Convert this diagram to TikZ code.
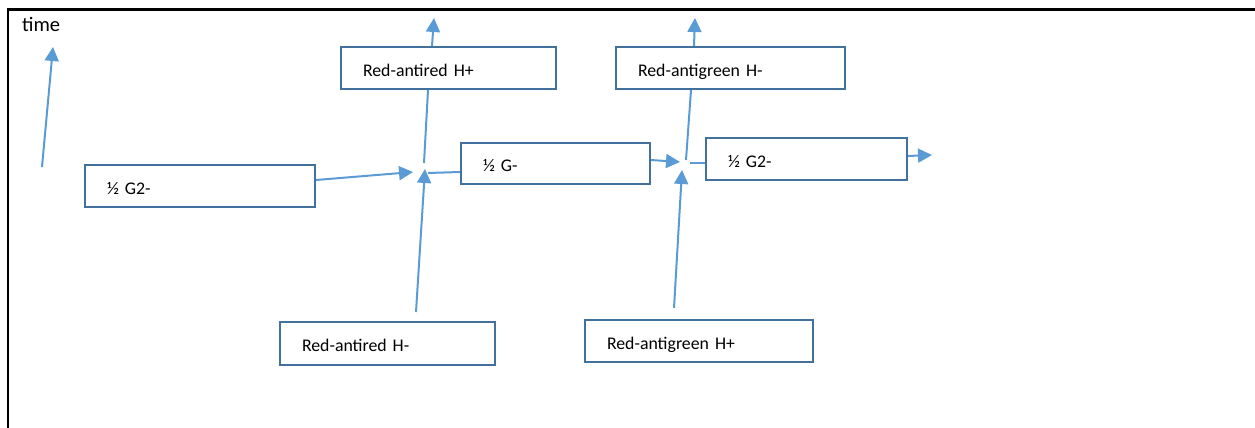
\documentclass[tikz,border=0pt]{standalone}
\usepackage{fontspec}
\setmainfont{Carlito}
\usetikzlibrary{arrows.meta,calc}
\definecolor{boxblue}{HTML}{41719C}
\definecolor{lineblue}{HTML}{5B9BD5}
\tikzset{
  box/.style={rectangle, draw=boxblue, line width=2.2pt, fill=white, minimum height=42pt,
    inner xsep=21pt, align=left, font=\fontsize{17.8}{20}\selectfont,
    text height=16pt, text depth=0pt},
  conn/.style={draw=lineblue, line width=2pt},
  arr/.style={conn, -{Triangle[length=14pt,width=14pt]}},
  frame/.style={draw=black, line width=2.2pt}
}
\begin{document}
\begin{tikzpicture}[x=1pt,y=-1pt]
\useasboundingbox (0,0) rectangle (1255,428);
% frame
\coordinate (fa) at (8,428);
\coordinate (fb) at (8,9.5);
\coordinate (fc) at (1256,9.5);
\draw[frame] (fa) -- (fb) -- (fc);
% time label and arrow
\node[anchor=west, inner sep=0pt, font=\fontsize{20.5}{23}\selectfont] (time) at (22,24) {time};
\coordinate (t0) at (42,167);
\coordinate (t1) at (53,47);
\draw[arr] (t0) -- (t1);
% boxes
\node[box, minimum width=230pt, text width=186pt] (g2l) at (200,186) {½ G2-};
\node[box, minimum width=215pt, text width=171pt] (rhp) at (448.5,68) {Red-antired H+};
\node[box, minimum width=189pt, minimum height=41pt, text width=145pt] (gm) at (555.5,163.5) {½ G-};
\node[box, minimum width=229pt, text width=185pt] (rgm) at (730.5,68) {Red-antigreen H-};
\node[box, minimum width=201pt, text width=157pt] (g2r) at (806.5,159) {½ G2-};
\node[box, minimum width=215pt, minimum height=43pt, text width=171pt] (rhm) at (387.5,343.5) {Red-antired H-};
\node[box, minimum width=228pt, text width=184pt] (rgp) at (699,341) {Red-antigreen H+};
% first junction
\coordinate (j1a) at (413,172);
\coordinate (j1b) at (428,173);
\coordinate (j1c) at (424,163);
\coordinate (j1d) at (425,169);
\coordinate (j1e) at (416,312);
\coordinate (u1) at (434,18);
\draw[arr] ([yshift=6pt]g2l.east) -- (j1a);
\draw[conn] ([yshift=-8.5pt]gm.west) -- (j1b);
\draw[conn] (j1c) -- ([xshift=-20.5pt]rhp.south);
\draw[arr] ([xshift=-16.5pt]rhp.north) -- (u1);
\draw[arr] (j1e) -- (j1d);
% second junction
\coordinate (j2a) at (680,162);
\coordinate (j2b) at (690,163);
\coordinate (j2c) at (686,160);
\coordinate (j2d) at (682,170);
\coordinate (j2e) at (674,308);
\coordinate (u2) at (695,18);
\coordinate (r1) at (932,155);
\draw[arr] ([yshift=3.5pt]gm.east) -- (j2a);
\draw[conn] ([yshift=-4pt]g2r.west) -- (j2b);
\draw[conn] (j2c) -- ([xshift=-39.5pt]rgm.south);
\draw[arr] ([xshift=-36.5pt]rgm.north) -- (u2);
\draw[arr] ([yshift=3pt]g2r.east) -- (r1);
\draw[arr] (j2e) -- (j2d);
\end{tikzpicture}
\end{document}
